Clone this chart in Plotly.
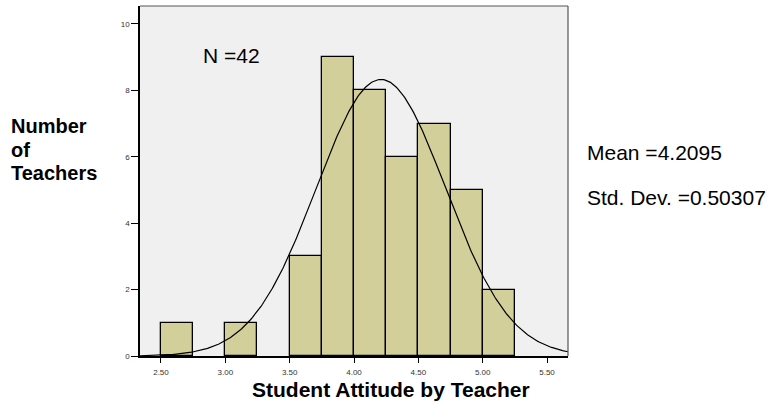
import numpy as np
import plotly.graph_objects as go

bin_left = [2.50, 3.00, 3.50, 3.75, 4.00, 4.25, 4.50, 4.75, 5.00]
counts = [1, 1, 3, 9, 8, 6, 7, 5, 2]
bin_width = 0.25
n_total = 42
mean_val = 4.2095
sd_val = 0.50307
x_ticks = [2.5, 3.0, 3.5, 4.0, 4.5, 5.0, 5.5]
x_tick_labels = ["2.50", "3.00", "3.50", "4.00", "4.50", "5.00", "5.50"]
y_ticks = [0, 2, 4, 6, 8, 10]
y_title_lines = ["Number", "of", "Teachers"]

x_min, x_max = 2.337, 5.663
xs = np.linspace(x_min, x_max, 400)
ys = n_total * bin_width / (sd_val * np.sqrt(2 * np.pi)) * np.exp(-0.5 * ((xs - mean_val) / sd_val) ** 2)

L, T, PW, PH = 140, 6, 428, 350

def px(x):
    return (x - L) / PW

def py(y):
    return 1 - (y - T) / PH

fig = go.Figure()
fig.add_trace(go.Bar(
    x=bin_left, y=counts, width=bin_width, offset=0,
    marker=dict(color="#d3cf9a", line=dict(color="black", width=1.3)),
    hoverinfo="x+y",
))
fig.add_trace(go.Scatter(x=xs, y=ys, mode="lines", line=dict(color="black", width=1.2), hoverinfo="skip"))

fig.update_layout(
    width=769, height=402,
    margin=dict(l=L, r=769 - L - PW, t=T, b=402 - T - PH),
    paper_bgcolor="white", plot_bgcolor="#f0f0f0",
    showlegend=False, bargap=0,
    font=dict(family="Liberation Sans, Arial, sans-serif", color="black"),
)
fig.update_xaxes(
    range=[x_min, x_max], tickvals=x_ticks, ticktext=x_tick_labels,
    tickfont=dict(size=8, color="#333333"), ticks="outside", ticklen=5, tickwidth=1.2, tickcolor="black",
    ticklabelstandoff=3,
    showgrid=False, zeroline=False,
    showline=True, linecolor="black", linewidth=1.5,
)
fig.update_yaxes(
    range=[0, 10.54], tickvals=y_ticks,
    tickfont=dict(size=8, color="#333333"), ticks="outside", ticklen=7, tickwidth=1.2, tickcolor="black",
    showgrid=False, zeroline=False,
    showline=True, linecolor="black", linewidth=1.5,
)
fig.add_shape(type="line", xref="paper", yref="paper", x0=0, x1=1, y0=1, y1=1,
              line=dict(color="#555555", width=1.2))
fig.add_shape(type="line", xref="paper", yref="paper", x0=1, x1=1, y0=0, y1=1,
              line=dict(color="#555555", width=1.2))

fig.add_annotation(text="<b>Student Attitude by Teacher</b>", xref="paper", yref="paper",
                   x=px(391), y=py(389), xanchor="center", yanchor="middle", showarrow=False,
                   font=dict(size=21, color="black"))
for line, yc in zip(y_title_lines, [126, 150, 173]):
    fig.add_annotation(text="<b>" + line + "</b>", xref="paper", yref="paper",
                       x=px(9), y=py(yc), xanchor="left", yanchor="middle", showarrow=False,
                       font=dict(size=20, color="black"))
fig.add_annotation(text="N =42", xref="paper", yref="paper", x=px(231), y=py(55),
                   xanchor="center", yanchor="middle", showarrow=False, font=dict(size=21, color="black"))
fig.add_annotation(text="Mean =4.2095", xref="paper", yref="paper", x=px(585), y=py(152),
                   xanchor="left", yanchor="middle", showarrow=False, font=dict(size=21, color="black"))
fig.add_annotation(text="Std. Dev. =0.50307", xref="paper", yref="paper", x=px(585), y=py(197),
                   xanchor="left", yanchor="middle", showarrow=False, font=dict(size=21, color="black"))

fig.write_html("out.html", config={"displayModeBar": False},
               post_script="document.body.style.margin='0';")
